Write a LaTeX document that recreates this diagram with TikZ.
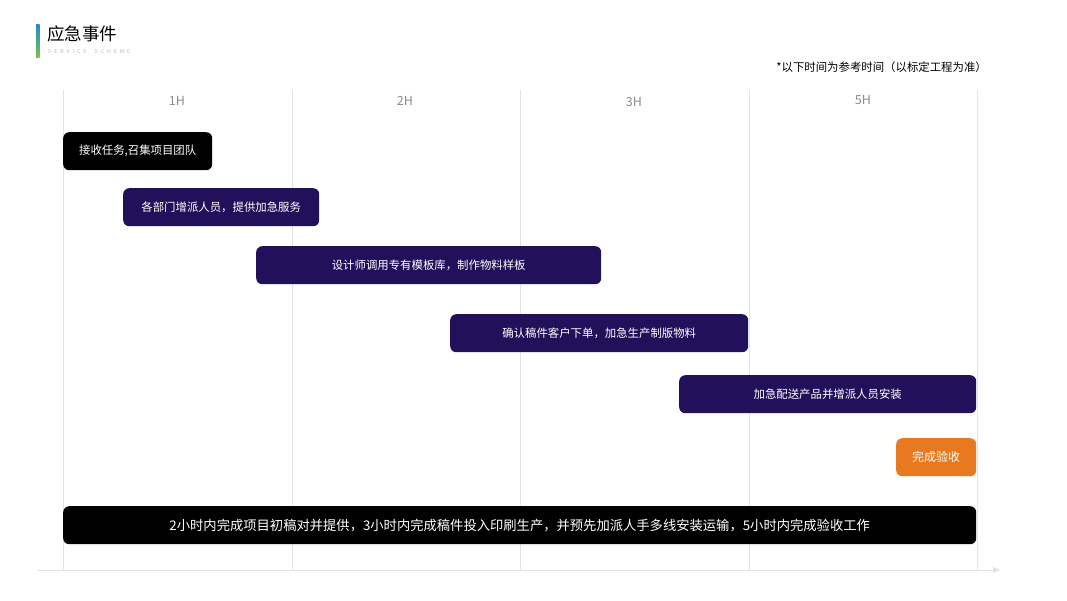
\documentclass[tikz,border=0pt]{standalone}
\usepackage{fontspec}
\setmainfont{Noto Sans CJK SC}
\usetikzlibrary{arrows.meta}
\definecolor{barpurple}{HTML}{22105A}
\definecolor{barorange}{HTML}{E8791E}
\definecolor{gridgrey}{HTML}{E3E3E3}
\definecolor{labgrey}{HTML}{8A8A8A}
\definecolor{accblue}{HTML}{1E88D6}
\definecolor{accgreen}{HTML}{7CC242}
\tikzset{
  bar/.style={rounded corners=6pt, inner sep=0pt, anchor=north west, minimum height=38pt},
  bartext/.style={text=white, font=\fontsize{11.4}{13}\selectfont},
  gridline/.style={draw=gridgrey, line width=0.8pt},
  collabel/.style={text=labgrey, font=\fontsize{12.5}{14}\selectfont},
}
\begin{document}
\begin{tikzpicture}[x=1pt,y=-1pt]
\useasboundingbox (0,0) rectangle (1067,600);
% title
\shade[top color=accblue, bottom color=accgreen] (36,24) rectangle (39.5,57);
\node[anchor=west, inner sep=0pt, font=\fontsize{17.5}{20}\selectfont] (title) at (47,34) {应急事件};
\node[anchor=west, inner sep=0pt, text=gridgrey!80!black, font=\fontsize{5.3}{6}\selectfont\addfontfeatures{LetterSpace=55}] (sub) at (48,52) {SERVICE\ \ SCHEME};
\node[anchor=east, inner sep=0pt, font=\fontsize{11.4}{13}\selectfont] (note) at (987,67) {*以下时间为参考时间（以标定工程为准）};
% grid
\foreach \x/\n in {63/a,292/b,520/c,749/d,977/e}{
  \coordinate (g\n t) at (\x,90);
  \coordinate (g\n b) at (\x,570);
  \draw[gridline] (g\n t) -- (g\n b);
}
\node[collabel] (l1) at (177,101) {1H};
\node[collabel] (l2) at (405,101) {2H};
\node[collabel] (l3) at (634,102) {3H};
\node[collabel] (l4) at (863,100) {5H};
% axis
\coordinate (ax0) at (38,570);
\coordinate (ax1) at (1000,570);
\draw[draw=gridgrey, line width=0.8pt, -{Triangle[length=7pt,width=6pt,fill=gridgrey]}] (ax0) -- (ax1);
% bars
\node[bar, fill=black, minimum width=149pt] (b1) at (63,132) {};
\node[bartext] (t1) at (b1.center) {接收任务,召集项目团队};
\node[bar, fill=barpurple, minimum width=196pt] (b2) at (123,188) {};
\node[bartext] (t2) at (b2.center) {各部门增派人员，提供加急服务};
\node[bar, fill=barpurple, minimum width=345pt] (b3) at (256,246) {};
\node[bartext] (t3) at (b3.center) {设计师调用专有模板库，制作物料样板};
\node[bar, fill=barpurple, minimum width=298pt] (b4) at (450,314) {};
\node[bartext] (t4) at (b4.center) {确认稿件客户下单，加急生产制版物料};
\node[bar, fill=barpurple, minimum width=297pt] (b5) at (679,375) {};
\node[bartext] (t5) at (b5.center) {加急配送产品并增派人员安装};
\node[bar, fill=barorange, minimum width=80pt] (b6) at (896,438) {};
\node[bartext, font=\fontsize{12}{13}\selectfont] (t6) at (b6.center) {完成验收};
\node[bar, fill=black, minimum width=913pt] (b7) at (63,506) {};
\node[text=white, font=\fontsize{13.3}{15}\selectfont] (t7) at (b7.center) {2小时内完成项目初稿对并提供，3小时内完成稿件投入印刷生产，并预先加派人手多线安装运输，5小时内完成验收工作};
\end{tikzpicture}
\end{document}
